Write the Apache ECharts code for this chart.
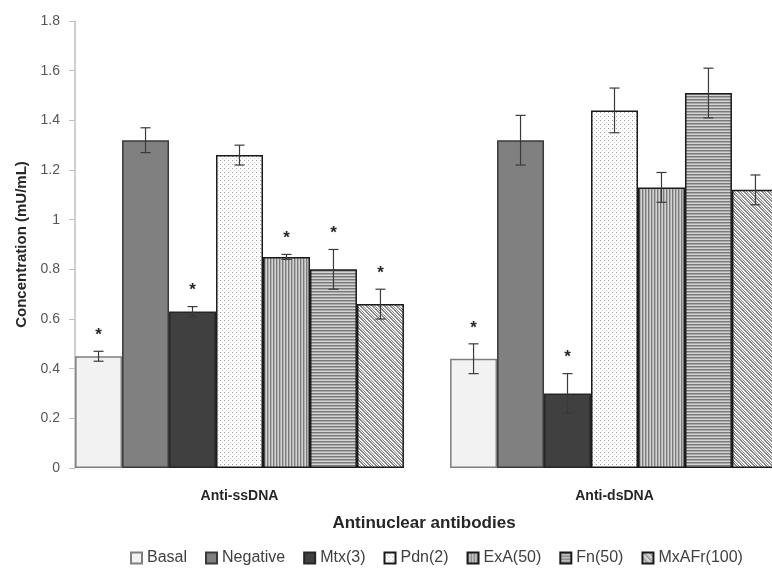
<!DOCTYPE html>
<html>
<head>
<meta charset="utf-8">
<style>
  html, body { margin: 0; padding: 0; background: #fff; }
  #chart { width: 772px; height: 569px; }
</style>
<script src="https://cdn.jsdelivr.net/npm/echarts@6/dist/echarts.min.js"></script>
</head>
<body>
<div id="chart"></div>
<script>
// Antibody groups on the x axis
const categories = ['Anti-ssDNA', 'Anti-dsDNA'];
// Treatment groups (one bar series each)
const treatments = ['Basal', 'Negative', 'Mtx(3)', 'Pdn(2)', 'ExA(50)', 'Fn(50)', 'MxAFr(100)'];
// Mean concentrations [Anti-ssDNA, Anti-dsDNA]
const basal    = [0.45, 0.44];
const negative = [1.32, 1.32];
const mtx      = [0.63, 0.30];
const pdn      = [1.26, 1.44];
const exa      = [0.85, 1.13];
const fn       = [0.80, 1.51];
const mxafr    = [0.66, 1.12];
// Error (± SD) per treatment [Anti-ssDNA, Anti-dsDNA]
const basalErr    = [0.02, 0.06];
const negativeErr = [0.05, 0.10];
const mtxErr      = [0.02, 0.08];
const pdnErr      = [0.04, 0.09];
const exaErr      = [0.01, 0.06];
const fnErr       = [0.08, 0.10];
const mxafrErr    = [0.06, 0.06];
// Significance marks (1 = asterisk) [Anti-ssDNA, Anti-dsDNA]
const basalSig    = [1, 1];
const negativeSig = [0, 0];
const mtxSig      = [1, 1];
const pdnSig      = [0, 0];
const exaSig      = [1, 0];
const fnSig       = [1, 0];
const mxafrSig    = [1, 0];
// Y axis ticks
const yMin = 0, yMax = 1.8, yStep = 0.2;

const values = [basal, negative, mtx, pdn, exa, fn, mxafr];
const errors = [basalErr, negativeErr, mtxErr, pdnErr, exaErr, fnErr, mxafrErr];
const sigs   = [basalSig, negativeSig, mtxSig, pdnSig, exaSig, fnSig, mxafrSig];

// ---- pattern fills ----
function makePattern(w, h, draw) {
  const c = document.createElement('canvas');
  c.width = w; c.height = h;
  const ctx = c.getContext('2d');
  draw(ctx, w, h);
  return { image: c, repeat: 'repeat' };
}
const dotted = makePattern(4, 4, (ctx) => {
  ctx.fillStyle = '#ffffff'; ctx.fillRect(0, 0, 4, 4);
  ctx.fillStyle = '#9a9a9a'; ctx.fillRect(0, 0, 1, 1);
  ctx.fillStyle = '#d0d0d0'; ctx.fillRect(2, 2, 1, 1);
});
const vertical = makePattern(3, 3, (ctx) => {
  ctx.fillStyle = '#d4d4d4'; ctx.fillRect(0, 0, 3, 3);
  ctx.fillStyle = '#7a7a7a'; ctx.fillRect(0, 0, 1, 3);
  ctx.fillStyle = '#b0b0b0'; ctx.fillRect(1, 0, 1, 3);
});
const horizontal = makePattern(3, 3, (ctx) => {
  ctx.fillStyle = '#d4d4d4'; ctx.fillRect(0, 0, 3, 3);
  ctx.fillStyle = '#7a7a7a'; ctx.fillRect(0, 0, 3, 1);
  ctx.fillStyle = '#a8a8a8'; ctx.fillRect(0, 1, 3, 1);
});
const diagonal = makePattern(6, 6, (ctx) => {
  ctx.fillStyle = '#f4f4f4'; ctx.fillRect(0, 0, 6, 6);
  ctx.fillStyle = '#8a8a8a';
  for (let i = 0; i < 6; i++) {
    ctx.fillRect(i, i, 1, 1);
    ctx.fillRect((i + 1) % 6, i, 1, 1);
    ctx.fillRect((i + 3) % 6, i, 1, 1);
  }
});

const fills = ['#f2f2f2', '#808080', '#404040', dotted, vertical, horizontal, diagonal];
const borders = ['#7f7f7f', '#3a3a3a', '#262626', '#1a1a1a', '#1a1a1a', '#1a1a1a', '#1a1a1a'];

const GAP = 0.123;
const N = treatments.length;
const FONT = 'Liberation Sans';

const barSeries = treatments.map((name, i) => ({
  name: name,
  type: 'bar',
  data: values[i],
  barGap: '0%',
  barCategoryGap: (GAP * 100) + '%',
  itemStyle: { color: fills[i], borderColor: borders[i], borderWidth: 1.5 },
  emphasis: { disabled: true },
  animation: false
}));

// error bars + asterisks, one record per bar
const errData = [];
treatments.forEach((t, i) => {
  categories.forEach((c, j) => {
    errData.push([j, values[i][j], errors[i][j], i, sigs[i][j]]);
  });
});

function renderErr(params, api) {
  const cat = api.value(0), val = api.value(1), err = api.value(2);
  const idx = api.value(3), sig = api.value(4);
  const bandW = api.size([1, 0])[0];
  const barW = bandW * (1 - GAP) / N;
  const base = api.coord([cat, val]);
  const x = base[0] + (idx - (N - 1) / 2) * barW;
  const top = api.coord([cat, val + err])[1];
  const bot = api.coord([cat, val - err])[1];
  const cap = 5;
  const lineStyle = { stroke: '#3a3a3a', lineWidth: 1.2 };
  const children = [
    { type: 'line', shape: { x1: x, y1: top, x2: x, y2: bot }, style: lineStyle },
    { type: 'line', shape: { x1: x - cap, y1: top, x2: x + cap, y2: top }, style: lineStyle },
    { type: 'line', shape: { x1: x - cap, y1: bot, x2: x + cap, y2: bot }, style: lineStyle }
  ];
  if (sig) {
    children.push({
      type: 'text',
      style: {
        text: '*', x: x, y: top - 16,
        align: 'center', verticalAlign: 'middle',
        font: 'bold 17px "' + FONT + '"', fill: '#262626'
      }
    });
  }
  return { type: 'group', children: children };
}

const chart = echarts.init(document.getElementById('chart'));
chart.setOption({
  animation: false,
  backgroundColor: '#ffffff',
  textStyle: { fontFamily: FONT },
  grid: { left: 52, top: 21, width: 750, height: 447, outerBoundsMode: 'none', containLabel: false },
  legend: {
    data: treatments,
    top: 545,
    left: 125,
    itemWidth: 11,
    itemHeight: 11,
    itemGap: 18,
    icon: 'rect',
    textStyle: { fontSize: 16, color: '#404040', fontFamily: FONT },
    selectedMode: false
  },
  xAxis: {
    type: 'category',
    data: categories,
    axisLine: { show: false },
    axisTick: { show: false },
    axisLabel: { fontWeight: 'bold', fontSize: 14, color: '#262626', margin: 21 }
  },
  yAxis: {
    type: 'value',
    min: yMin, max: yMax, interval: yStep,
    offset: -23,
    axisLine: { show: true, lineStyle: { color: '#bfbfbf', width: 1.5 } },
    axisTick: { show: true, length: 6, lineStyle: { color: '#bfbfbf' } },
    splitLine: { show: false },
    axisLabel: { fontSize: 14, color: '#555555', margin: 15 },
    name: 'Concentration (mU/mL)',
    nameLocation: 'middle',
    nameGap: 46,
    nameTextStyle: { fontWeight: 'bold', fontSize: 15, color: '#262626' }
  },
  graphic: [{
    type: 'text',
    x: 424,
    y: 523,
    style: {
      text: 'Antinuclear antibodies',
      font: 'bold 17px "' + FONT + '"',
      fill: '#262626',
      align: 'center',
      verticalAlign: 'middle'
    }
  }],
  series: barSeries.concat([{
    type: 'custom',
    name: 'errors',
    renderItem: renderErr,
    data: errData,
    z: 5,
    silent: true,
    encode: { x: 0, y: 1 }
  }])
});
</script>
</body>
</html>
